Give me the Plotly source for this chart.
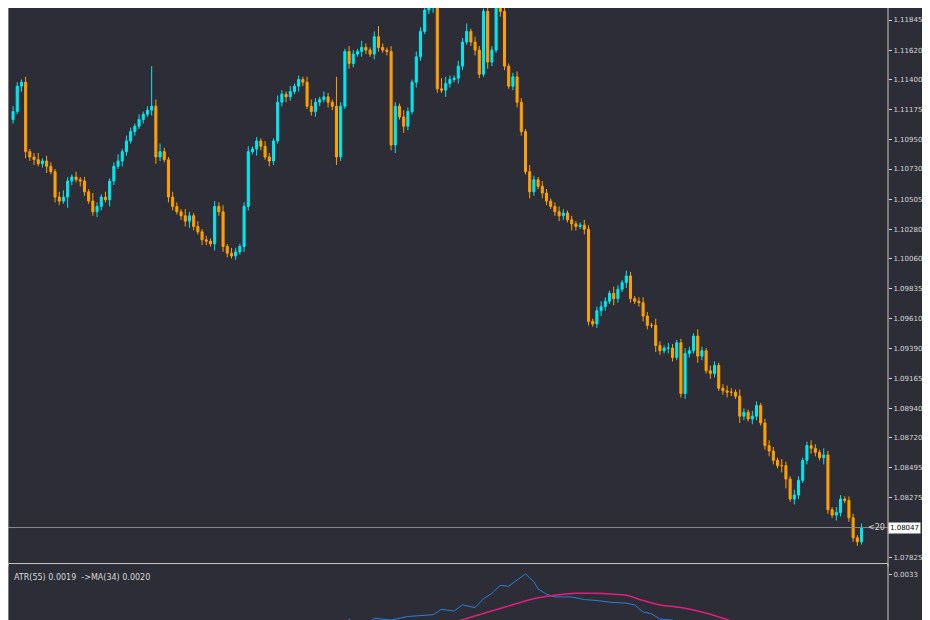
import plotly.graph_objects as go
from plotly.subplots import make_subplots

# closing prices, one per candle (open = previous close)
closes = [
    1.1116, 1.1135, 1.1138, 1.1086,
    1.1082, 1.1080, 1.1077, 1.1079, 1.1075, 1.1071,
    1.1052, 1.1049, 1.1052,
    1.1064, 1.1067, 1.1065, 1.1064,
    1.1056, 1.1049, 1.1041, 1.1045,
    1.1052, 1.1050, 1.1064,
    1.1075, 1.1079, 1.1086, 1.1094, 1.1101,
    1.1105, 1.1110, 1.1114, 1.1117, 1.1120,
    1.1082,
    1.1086, 1.1080, 1.1052,
    1.1045, 1.1041, 1.1038, 1.1034, 1.1038, 1.1030, 1.1026, 1.1020, 1.1019,
    1.1017, 1.1045, 1.1041,
    1.1015, 1.1010, 1.1008, 1.1011, 1.1015,
    1.1045, 1.1086, 1.1088,
    1.1094, 1.1090, 1.1082, 1.1079, 1.1094,
    1.1123, 1.1129, 1.1127, 1.1131, 1.1135, 1.1140, 1.1138,
    1.1120, 1.1116, 1.1123, 1.1125, 1.1127, 1.1123, 1.1120,
    1.1082, 1.1120,
    1.1161, 1.1152, 1.1159, 1.1161, 1.1164, 1.1162, 1.1159,
    1.1172, 1.1164, 1.1162, 1.1161,
    1.1091, 1.1120,
    1.1112, 1.1105, 1.1116, 1.1138,
    1.1157, 1.1176, 1.1192, 1.1194, 1.1195,
    1.1133, 1.1132, 1.1137, 1.1140, 1.1141, 1.1150,
    1.1168, 1.1176, 1.1168, 1.1162,
    1.1144, 1.1191, 1.1153, 1.1162,
    1.1197, 1.1191, 1.1150,
    1.1135, 1.1142, 1.1123, 1.1101,
    1.1071, 1.1056, 1.1065, 1.1060,
    1.1055, 1.1049, 1.1045, 1.1041, 1.1038, 1.1040, 1.1035, 1.1032, 1.1030, 1.1031, 1.1028,
    1.0959, 1.0957, 1.0967,
    1.0970, 1.0974, 1.0980, 1.0976, 1.0983, 1.0988, 1.0993,
    1.0976, 1.0974, 1.0973, 1.0963, 1.0956, 1.0956,
    1.0941, 1.0937, 1.0939, 1.0939, 1.0932, 1.0943,
    1.0905, 1.0935, 1.0937, 1.0948, 1.0933, 1.0937,
    1.0922, 1.0920, 1.0926, 1.0909, 1.0907, 1.0906, 1.0906,
    1.0903, 1.0888, 1.0891, 1.0886, 1.0888, 1.0896, 1.0883,
    1.0866, 1.0862, 1.0855, 1.0851, 1.0851, 1.0841,
    1.0826, 1.0829, 1.0840,
    1.0855, 1.0866, 1.0864, 1.0861, 1.0857, 1.0859,
    1.0818, 1.0814, 1.0816, 1.0826, 1.0825,
    1.0812, 1.0797, 1.0794, 1.08047,
]
first_open = 1.1110

# wick lengths in pips above / below the candle body
wick_up = [
    4, 3, 2, 4, 2, 3, 5, 2, 4, 3,
    2, 4, 5, 3, 2, 4, 2, 3, 2, 6,
    3, 2, 4, 2, 3, 5, 2, 4, 3, 2,
    4, 2, 3, 30, 5, 6, 3, 2, 4, 3,
    2, 5, 3, 2, 4, 2, 3, 2, 4, 3,
    5, 2, 4, 3, 2, 3, 4, 2, 3, 2,
    4, 3, 2, 5, 3, 2, 4, 2, 3, 2,
    4, 5, 3, 2, 4, 3, 2, 22, 3, 2,
    4, 3, 2, 5, 3, 2, 4, 8, 3, 2,
    4, 3, 2, 5, 3, 2, 4, 3, 2, 3,
    4, 3, 8, 5, 3, 2, 4, 3, 6, 2,
    4, 3, 2, 5, 3, 2, 4, 3, 2, 3,
    4, 3, 2, 5, 3, 2, 4, 3, 2, 3,
    4, 3, 2, 3, 2, 2, 4, 3, 2, 3,
    4, 3, 2, 5, 3, 2, 4, 3, 2, 3,
    4, 3, 2, 5, 3, 2, 4, 3, 2, 3,
    4, 3, 2, 5, 3, 2, 4, 3, 2, 3,
    4, 3, 2, 5, 3, 2, 4, 3, 2, 3,
    4, 3, 2, 5, 3, 2, 4, 3, 2, 3,
    4, 3, 2, 5, 3, 2, 4, 3, 2, 3,
    3, 2, 3,
]
wick_dn = [
    3, 2, 4, 5, 3, 4, 2, 3, 5, 2,
    4, 3, 2, 8, 3, 2, 4, 3, 2, 3,
    4, 3, 2, 5, 3, 2, 4, 3, 2, 3,
    2, 3, 2, 4, 5, 3, 2, 4, 3, 2,
    3, 4, 5, 3, 2, 4, 3, 2, 5, 3,
    4, 3, 2, 3, 2, 4, 3, 2, 5, 3,
    2, 4, 3, 2, 3, 4, 3, 2, 4, 3,
    2, 3, 4, 3, 2, 4, 3, 6, 3, 2,
    4, 3, 2, 4, 3, 2, 4, 3, 2, 3,
    4, 6, 2, 5, 3, 2, 4, 3, 2, 3,
    4, 3, 2, 5, 3, 2, 4, 3, 2, 3,
    4, 3, 2, 5, 3, 2, 4, 3, 2, 3,
    4, 3, 2, 5, 3, 2, 4, 3, 2, 3,
    4, 3, 2, 5, 3, 2, 4, 3, 2, 3,
    4, 3, 2, 5, 3, 2, 4, 3, 2, 3,
    4, 3, 2, 5, 3, 2, 4, 3, 2, 3,
    4, 3, 2, 5, 3, 2, 4, 3, 2, 3,
    4, 3, 2, 5, 3, 2, 4, 3, 2, 3,
    4, 3, 2, 5, 7, 2, 4, 3, 2, 3,
    4, 3, 2, 5, 3, 2, 4, 3, 2, 3,
    3, 3, 2,
]

atr_idx = [74, 78, 80, 83, 86, 90, 94, 97, 100, 102, 105, 107, 110, 112, 114, 116,
           118, 120, 122, 124, 125, 127, 129, 133, 136, 139, 142, 146, 148, 150, 152,
           154, 157, 161, 165]
atr_val = [0.00262, 0.00270, 0.00280, 0.00269, 0.00281, 0.00279, 0.00283, 0.00284,
           0.00285, 0.00291, 0.00289, 0.00296, 0.00293, 0.00303, 0.00309, 0.00318,
           0.00317, 0.00324, 0.00331, 0.00322, 0.00314, 0.00308, 0.00305, 0.00305,
           0.00302, 0.00301, 0.00299, 0.00298, 0.00296, 0.00288, 0.00286, 0.00280,
           0.00279, 0.00270, 0.00262]
ma_idx = [90, 100, 106, 111, 116, 121, 125, 129, 134, 139, 143, 146, 150, 154,
          159, 164, 169, 174, 180]
ma_val = [0.00256, 0.00270, 0.00278, 0.00285, 0.00292, 0.00299, 0.00304, 0.00307,
          0.00309, 0.00309, 0.00308, 0.00307, 0.00301, 0.00296, 0.00293, 0.00288,
          0.00281, 0.00273, 0.00262]

price_ticks = [1.11845, 1.11620, 1.11400, 1.11175, 1.10950, 1.10730, 1.10505,
               1.10280, 1.10060, 1.09835, 1.09610, 1.09390, 1.09165, 1.08940,
               1.08720, 1.08495, 1.08275, 1.07825]

n = len(closes)
opens = [first_open] + closes[:-1]
wick_up = (wick_up + [2] * n)[:n]
wick_dn = (wick_dn + [2] * n)[:n]
highs = [max(o, c) + u * 0.0001 for o, c, u in zip(opens, closes, wick_up)]
lows = [min(o, c) - d * 0.0001 for o, c, d in zip(opens, closes, wick_dn)]
xs = list(range(n))

bg = "#2c2d37"
fig = make_subplots(rows=2, cols=1, shared_xaxes=True, row_heights=[0.905, 0.095],
                    vertical_spacing=0.005)

fig.add_trace(go.Candlestick(
    x=xs, open=opens, high=highs, low=lows, close=closes,
    increasing=dict(line=dict(color="#00e8f0", width=1), fillcolor="#00e8f0"),
    decreasing=dict(line=dict(color="#ffa000", width=1), fillcolor="#ffa000"),
    whiskerwidth=0, showlegend=False, hoverinfo="skip",
), row=1, col=1)

fig.add_trace(go.Scatter(x=atr_idx, y=atr_val, mode="lines",
                         line=dict(color="#2a7fd8", width=1), showlegend=False),
              row=2, col=1)
fig.add_trace(go.Scatter(x=ma_idx, y=ma_val, mode="lines", line_shape="spline",
                         line=dict(color="#e0207a", width=1.5), showlegend=False),
              row=2, col=1)

last = closes[-1]
fig.add_hline(y=last, line=dict(color="#8a8a8a", width=1), row=1, col=1)

axis_font = dict(family="DejaVu Sans", size=7, color="#d8d8d8")
fig.update_xaxes(range=[-1.2, 208.3], showgrid=False, showticklabels=False,
                 zeroline=False, rangeslider_visible=False)
fig.update_yaxes(side="right", showgrid=False, zeroline=False, tickfont=axis_font,
                 ticks="outside", ticklen=3, tickcolor="#d8d8d8")
fig.update_yaxes(range=[1.07757, 1.11935], tickvals=price_ticks,
                 ticktext=[f"{v:.5f}" for v in price_ticks], row=1, col=1)
fig.update_yaxes(range=[0.00270, 0.00336], tickvals=[0.0033], ticktext=["0.0033"],
                 row=2, col=1)

fig.update_layout(
    width=930, height=620, paper_bgcolor=bg, plot_bgcolor=bg,
    margin=dict(l=0, r=50, t=0, b=0),
    shapes=[
        dict(type="line", xref="x domain", yref="y domain", x0=0, x1=1, y0=0, y1=0,
             line=dict(color="#c8c8c8", width=1)),
        dict(type="line", xref="x domain", yref="y domain", x0=1, x1=1, y0=0, y1=1,
             line=dict(color="#c8c8c8", width=1)),
        dict(type="line", xref="x domain", yref="y domain", x0=0, x1=0, y0=0, y1=1,
             line=dict(color="#c8c8c8", width=1)),
        dict(type="rect", xref="x2 domain", yref="y2 domain", x0=0, x1=1, y0=0, y1=1.1,
             line=dict(color="#c8c8c8", width=1)),
    ],
    annotations=[
        dict(xref="paper", yref="y", x=1.0, y=last, text="1.08047", showarrow=False,
             xanchor="left", bgcolor="#ffffff", font=dict(family="DejaVu Sans", size=7,
             color="#000000"), borderpad=1),
        dict(xref="paper", yref="y", x=0.999, y=last, text="<20", showarrow=False,
             xanchor="right", font=dict(family="DejaVu Sans", size=8, color="#d8d8d8")),
        dict(xref="x2 domain", yref="y2 domain", x=0.005, y=0.98,
             text="ATR(55) 0.0019  ->MA(34) 0.0020", showarrow=False,
             xanchor="left", yanchor="top",
             font=dict(family="DejaVu Sans", size=8, color="#d8d8d8")),
    ],
)

fig.write_html("out.html")
